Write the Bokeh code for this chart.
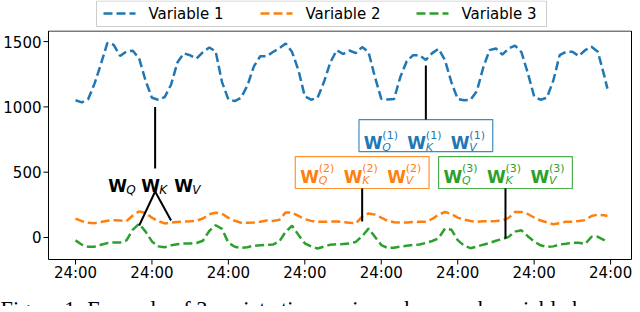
import numpy as np
from bokeh.plotting import figure
from bokeh.layouts import column
from bokeh.models import Range1d
from bokeh.core.properties import value
from bokeh.embed import file_html
from bokeh.resources import INLINE

# ---------------- data ----------------
hours = list(range(0, 167, 2)) + [167]
var1 = [1051, 1035, 1060, 1180, 1330, 1490, 1475, 1390, 1425, 1430,
        1370, 1200, 1070, 1055, 1075, 1170, 1340, 1410, 1395, 1370,
        1420, 1455, 1425, 1190, 1057, 1045, 1070, 1165, 1310, 1388,
        1388, 1420, 1450, 1485, 1420, 1280, 1080, 1055, 1070, 1190,
        1340, 1434, 1405, 1432, 1412, 1458, 1420, 1230, 1062, 1057,
        1060, 1230, 1350, 1396, 1396, 1360, 1412, 1445, 1358, 1190,
        1060, 1051, 1055, 1120, 1300, 1435, 1447, 1400, 1447, 1470,
        1420, 1260, 1080, 1055, 1070, 1200, 1396, 1422, 1422, 1390,
        1434, 1460, 1422, 1240, 1140]
var2 = [145, 125, 112, 110, 118, 128, 132, 130, 125, 168,
        200, 188, 152, 125, 108, 114, 118, 121, 124, 129,
        145, 178, 190, 182, 150, 128, 113, 112, 115, 121,
        130, 127, 135, 192, 190, 165, 140, 127, 120, 120,
        122, 122, 118, 113, 108, 160, 184, 175, 152, 128,
        117, 115, 115, 119, 120, 121, 142, 175, 195, 180,
        152, 138, 126, 120, 124, 125, 126, 130, 150, 195,
        196, 180, 153, 130, 116, 102, 110, 120, 120, 126,
        133, 165, 175, 170, 164]
var3 = [-22, -55, -71, -70, -56, -43, -38, -38, -22, 60,
        105, 45, -30, -68, -75, -60, -52, -46, -46, -42,
        -25, 50, 94, 66, -40, -71, -80, -74, -63, -60,
        -57, -54, -30, 45, 90, 20, -45, -68, -84, -70,
        -55, -52, -50, -45, -34, 10, 68, 5, -58, -80,
        -78, -70, -63, -57, -54, -42, -27, -6, 69, 60,
        -20, -62, -82, -70, -55, -42, -25, -12, 5, 45,
        55, 10, -30, -60, -71, -68, -54, -48, -40, -40,
        -50, 5, 5, -20, -33]
series_names = ["Variable 1", "Variable 2", "Variable 3"]
colors = ["#1f77b4", "#ff7f0e", "#2ca02c"]
day_ticks = [0, 24, 48, 72, 96, 120, 144, 168]
tick_label = "24:00"
y_ticks = [0, 500, 1000, 1500]
subs = ["Q", "K", "V"]
sups = ["(1)", "(2)", "(3)"]
caption = "Figure 1: Example of 3-variate time series, where each variable has"

# annotation anchors (hour, value)
box_hours = [110, 90, 135]
box_bottom = [658, 375, 375]
box_top = [903, 620, 620]
box_baseline = [720, 467, 467]
pointer_end = [1317, 122, -8]
shared_hour = 25
shared_top, shared_bottom = 1000, 528
shared_baseline = 398
shared_fork = 352
fork_ends = [(20, 92), (30, 130)]

FONT = "DejaVu Sans"
DASH = "9 4"
W = 632

# axes box (data units) and the visible window around it
AX_LEFT, AX_RIGHT = -8.48, 174.57
AX_BOTTOM, AX_TOP = -168.5, 1581
VIEW_X = (-23.55, 174.88)
VIEW_Y = (-344.6, 1585)
TICK_X = 5 / 3.185      # 5 px expressed in hours
TICK_Y = 5 * 7.657      # 5 px expressed in value units

# ---------------- main chart ----------------
p = figure(width=W, height=252, output_backend="svg", toolbar_location=None,
           x_range=Range1d(*VIEW_X), y_range=Range1d(*VIEW_Y),
           x_axis_type=None, y_axis_type=None, min_border=0)
p.outline_line_color = None

# axes box, ticks and tick labels
p.quad(left=[AX_LEFT], right=[AX_RIGHT], bottom=[AX_BOTTOM], top=[AX_TOP],
       fill_color=None, line_color="black", line_width=1)
p.segment(x0=day_ticks, y0=[AX_BOTTOM] * len(day_ticks), x1=day_ticks,
          y1=[AX_BOTTOM - TICK_Y] * len(day_ticks), line_color="black", line_width=1)
p.segment(x0=[AX_LEFT] * len(y_ticks), y0=y_ticks, x1=[AX_LEFT - TICK_X] * len(y_ticks),
          y1=y_ticks, line_color="black", line_width=1)
p.text(x=day_ticks, y=[AX_BOTTOM] * len(day_ticks), text=[tick_label] * len(day_ticks),
       y_offset=4, text_font=value(FONT), text_font_size="15px", text_color="black",
       text_align="center", text_baseline="top")
p.text(x=[AX_LEFT] * len(y_ticks), y=y_ticks, text=[str(t) for t in y_ticks],
       x_offset=-7, text_font=value(FONT), text_font_size="15px", text_color="black",
       text_align="right", text_baseline="middle")

for vals, c in zip([var1, var2, var3], colors):
    p.line(hours, vals, line_color=c, line_width=2.5, line_dash=DASH)


def w_group(x, y, x0, color, sub, sup, w_size, s_size, s_dx):
    p.text(x=[x], y=[y], text=["W"], x_offset=x0, y_offset=0,
           text_font=value(FONT), text_font_style="bold",
           text_font_size=f"{w_size}px", text_color=color,
           text_baseline="alphabetic", text_align="left")
    p.text(x=[x], y=[y], text=[sub], x_offset=x0 + s_dx, y_offset=4,
           text_font=value(FONT), text_font_style="italic",
           text_font_size=f"{s_size}px", text_color=color,
           text_baseline="alphabetic", text_align="left")
    if sup:
        p.text(x=[x], y=[y], text=[sup], x_offset=x0 + s_dx, y_offset=-8,
               text_font=value(FONT), text_font_size=f"{s_size}px",
               text_color=color, text_baseline="alphabetic", text_align="left")


# shared (black) annotation
p.segment(x0=[shared_hour], y0=[shared_top], x1=[shared_hour], y1=[shared_bottom],
          line_color="black", line_width=2)
p.segment(x0=[shared_hour, shared_hour], y0=[shared_fork, shared_fork],
          x1=[e[0] for e in fork_ends], y1=[e[1] for e in fork_ends],
          line_color="black", line_width=2)
for i, s in enumerate(subs):
    w_group(shared_hour, shared_baseline, -47 + 33 * i, "black", s, None, 17, 12, 18)

# per-variable boxes
half_w = 21
for k in range(3):
    c = colors[k]
    h = box_hours[k]
    p.quad(left=[h - half_w], right=[h + half_w], bottom=[box_bottom[k]], top=[box_top[k]],
           fill_color="white", line_color=c, line_width=1.2, line_alpha=0.85)
    edge = box_top[k] if pointer_end[k] > box_top[k] else box_bottom[k]
    p.segment(x0=[h], y0=[edge], x1=[h], y1=[pointer_end[k]],
              line_color="black", line_width=2)
    for i, s in enumerate(subs):
        w_group(h, box_baseline[k], -62 + 43.5 * i, c, s, sups[k], 17, 11, 18.5)

# ---------------- legend strip (pixel coordinates) ----------------
LH = 30
leg = figure(width=W, height=LH, output_backend="svg", toolbar_location=None,
             x_range=Range1d(0, W), y_range=Range1d(0, LH),
             x_axis_type=None, y_axis_type=None, min_border=0)
leg.outline_line_color = None
leg.quad(left=[96], right=[546], bottom=[4], top=[29.5],
         fill_color="white", line_color="#cccccc", line_width=1)
glyph_x = [103, 260, 416]
for gx, c, name in zip(glyph_x, colors, series_names):
    leg.segment(x0=[gx], y0=[17], x1=[gx + 32], y1=[17], line_color=c,
                line_width=2.5, line_dash=DASH)
    leg.text(x=[gx + 45], y=[17], text=[name], text_font=value(FONT),
             text_font_size="15px", text_color="black", text_baseline="middle")

# ---------------- caption strip ----------------
CH = 24
cap = figure(width=W, height=CH, output_backend="svg", toolbar_location=None,
             x_range=Range1d(0, W), y_range=Range1d(0, CH),
             x_axis_type=None, y_axis_type=None, min_border=0)
cap.outline_line_color = None
cap.text(x=[0], y=[-3], text=[caption], text_font=value("Liberation Serif"),
         text_font_size="22.3px", text_color="black", text_baseline="alphabetic")

layout = column(leg, p, cap, spacing=0)
open("out.html", "w").write(file_html(layout, INLINE))
